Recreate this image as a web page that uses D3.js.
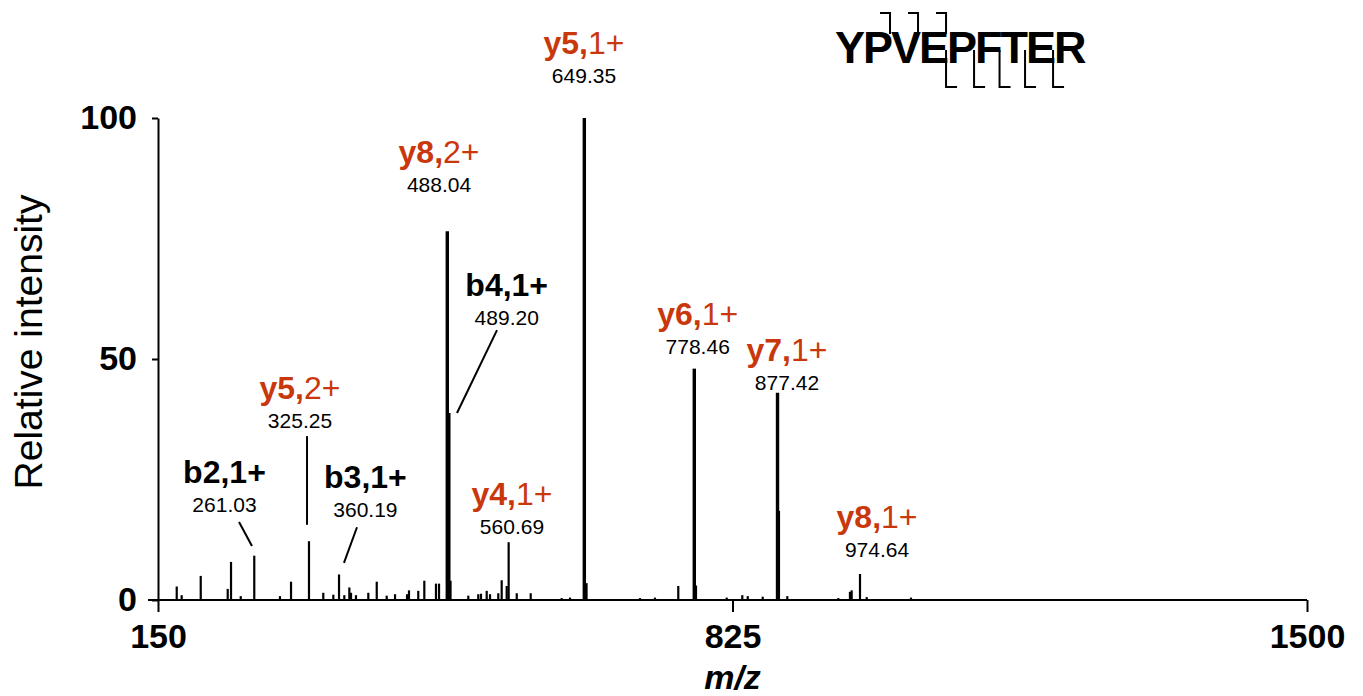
<!DOCTYPE html>
<html>
<head>
<meta charset="utf-8">
<script src="https://cdnjs.cloudflare.com/ajax/libs/d3/7.8.5/d3.min.js"></script>
<style>
body { margin: 0; background: #fff; }
text { font-family: "Liberation Sans", Arial, Helvetica, sans-serif; }
</style>
</head>
<body>
<script>
// spectrum peaks: m/z and relative intensity (%)
var peakMz  = [172.0, 177.8, 200.2, 231.9, 235.8, 247.2, 263.1, 293.3, 306.3, 327.4,
               344.2, 356.0, 362.7, 368.9, 374.8, 376.8, 382.6, 397.1, 407.0, 418.7,
               428.5, 442.6, 444.9, 455.8, 462.9, 476.6, 480.2, 489.9, 491.7, 493.7,
               514.6, 526.3, 529.5, 536.2, 540.1, 549.8, 553.8, 559.7, 562.0, 571.5,
               587.9, 624.3, 634.1, 650.9, 653.5, 716.3, 733.9, 761.3, 780.1, 782.1,
               818.2, 836.5, 842.9, 860.5, 877.9, 879.6, 889.4, 949.3, 963.0, 965.0,
               974.8, 982.7, 1034.7];
var peakInt = [2.8, 1.0, 5.0, 2.3, 7.9, 0.8, 9.2, 0.8, 3.8, 12.2,
               1.5, 1.1, 5.3, 1.0, 2.6, 1.5, 1.0, 1.5, 3.8, 0.9,
               1.2, 1.2, 2.0, 1.9, 4.0, 3.4, 3.4, 76.5, 38.8, 4.0,
               0.9, 1.2, 1.3, 1.9, 1.2, 1.4, 4.1, 2.9, 12.0, 1.4,
               1.4, 0.4, 0.5, 100, 3.5, 0.4, 0.5, 2.9, 48, 3.0,
               0.5, 1.0, 0.8, 0.7, 43, 18.5, 0.8, 0.4, 1.7, 2.0,
               5.4, 0.6, 0.5];

// annotated fragment ions
var ionNames   = ["y5", "y8", "b4", "y6", "y7", "y5", "b2", "b3", "y4", "y8"];
var ionCharges = ["1+", "2+", "1+", "1+", "1+", "2+", "1+", "1+", "1+", "1+"];
var ionValues  = ["649.35", "488.04", "489.20", "778.46", "877.42", "325.25", "261.03", "360.19", "560.69", "974.64"];
// label anchor (centre of the m/z number, its baseline) in data units
var labelMz  = [650.5, 480.2, 559.7, 784.1, 889.0, 316.8, 228.1, 393.7, 565.9, 994.8];
var labelInt = [107.3, 84.6, 57.0, 51.0, 43.6, 35.7, 18.3, 17.3, 13.7, 9.0];

// leader lines from label to peak
var leadMz1  = [548.3, 325.1, 245.2, 383.8];
var leadInt1 = [56.0, 34.0, 16.2, 15.1];
var leadMz2  = [501.3, 325.1, 260.4, 368.5];
var leadInt2 = [38.8, 15.6, 11.2, 7.7];

var xTicks = [150, 825, 1500];
var yTicks = [0, 50, 100];

var peptide = "YPVEPFTER";
var bFrags = [2, 3, 4];
var yFrags = [1, 2, 3, 4, 5];

var red = "#c9380c";

var svg = d3.select("body").append("svg")
    .attr("width", 1363)
    .attr("height", 696);

var x = d3.scaleLinear().domain([150, 1500]).range([158, 1307]);
var y = d3.scaleLinear().domain([0, 100]).range([600, 118]);

// peaks
var peaks = d3.range(peakMz.length).map(function(i){ return {mz: peakMz[i], v: peakInt[i]}; });
svg.append("g").selectAll("line")
    .data(peaks)
    .enter()
    .append("line")
    .attr("x1", function(d){ return x(d.mz); })
    .attr("x2", function(d){ return x(d.mz); })
    .attr("y1", y(0))
    .attr("y2", function(d){ return y(d.v); })
    .attr("stroke", "#000")
    .attr("stroke-width", function(d){ return d.v > 30 ? 3.4 : 2.2; });

// axes
var xAxis = svg.append("g")
    .attr("transform", "translate(0," + y(0) + ")")
    .call(d3.axisBottom(x).tickValues(xTicks).tickFormat(d3.format("d"))
        .tickSize(12).tickSizeOuter(0).tickPadding(12));
xAxis.select(".domain").remove();
svg.append("line")
    .attr("x1", x.range()[0] - 10).attr("x2", x.range()[1])
    .attr("y1", y(0)).attr("y2", y(0))
    .attr("stroke", "#000").attr("stroke-width", 2);

var yAxis = svg.append("g")
    .attr("transform", "translate(" + x(150) + ",0)")
    .call(d3.axisLeft(y).tickValues(yTicks).tickSize(6).tickSizeOuter(0).tickPadding(15));

svg.selectAll(".tick line, .domain").attr("stroke", "#000").attr("stroke-width", 2);
svg.selectAll(".tick text")
    .attr("fill", "#000")
    .style("font-family", "'Liberation Sans', Arial, sans-serif")
    .style("font-size", "34px")
    .style("font-weight", "bold");

svg.append("text")
    .attr("transform", "translate(42,342) rotate(-90)")
    .attr("text-anchor", "middle")
    .style("font-size", "39px")
    .text("Relative intensity");

svg.append("text")
    .attr("x", x(825))
    .attr("y", 689)
    .attr("text-anchor", "middle")
    .style("font-size", "34px")
    .style("font-weight", "bold")
    .style("font-style", "italic")
    .text("m/z");

// leader lines
svg.append("g").selectAll("line")
    .data(d3.range(leadMz1.length))
    .enter()
    .append("line")
    .attr("x1", function(i){ return x(leadMz1[i]); })
    .attr("y1", function(i){ return y(leadInt1[i]); })
    .attr("x2", function(i){ return x(leadMz2[i]); })
    .attr("y2", function(i){ return y(leadInt2[i]); })
    .attr("stroke", "#000")
    .attr("stroke-width", 2);

// ion labels
var labels = svg.append("g").selectAll("g")
    .data(d3.range(ionNames.length))
    .enter()
    .append("g")
    .attr("transform", function(i){ return "translate(" + x(labelMz[i]) + "," + y(labelInt[i]) + ")"; });

var ionText = labels.append("text")
    .attr("y", -29)
    .attr("text-anchor", "middle")
    .style("font-size", "32px");
ionText.append("tspan")
    .style("font-weight", "bold")
    .attr("fill", function(i){ return ionNames[i][0] == "y" ? red : "#000"; })
    .text(function(i){ return ionNames[i] + ","; });
ionText.append("tspan")
    .style("font-weight", function(i){ return ionNames[i][0] == "y" ? "normal" : "bold"; })
    .attr("fill", function(i){ return ionNames[i][0] == "y" ? red : "#000"; })
    .text(function(i){ return ionCharges[i]; });

labels.append("text")
    .attr("text-anchor", "middle")
    .style("font-size", "21px")
    .text(function(i){ return ionValues[i]; });

// peptide sequence with fragment brackets
var seq = svg.append("text")
    .attr("x", 835)
    .attr("y", 63)
    .style("font-size", "45px")
    .style("font-weight", "bold")
    .style("letter-spacing", "-2px")
    .text(peptide);
var seqNode = seq.node();
function charX(i){ return seqNode.getStartPositionOfChar(i).x - 1; }

var brackets = svg.append("g")
    .attr("fill", "none")
    .attr("stroke", "#000")
    .attr("stroke-width", 2);
brackets.selectAll(".bfrag")
    .data(bFrags)
    .enter()
    .append("path")
    .attr("class", "bfrag")
    .attr("d", function(k){ var cx = charX(k); return "M" + (cx - 10) + ",13H" + cx + "V34"; });
brackets.selectAll(".yfrag")
    .data(yFrags)
    .enter()
    .append("path")
    .attr("class", "yfrag")
    .attr("d", function(k){ var cx = charX(peptide.length - k); return "M" + cx + ",50V87H" + (cx + 11); });
</script>
</body>
</html>
